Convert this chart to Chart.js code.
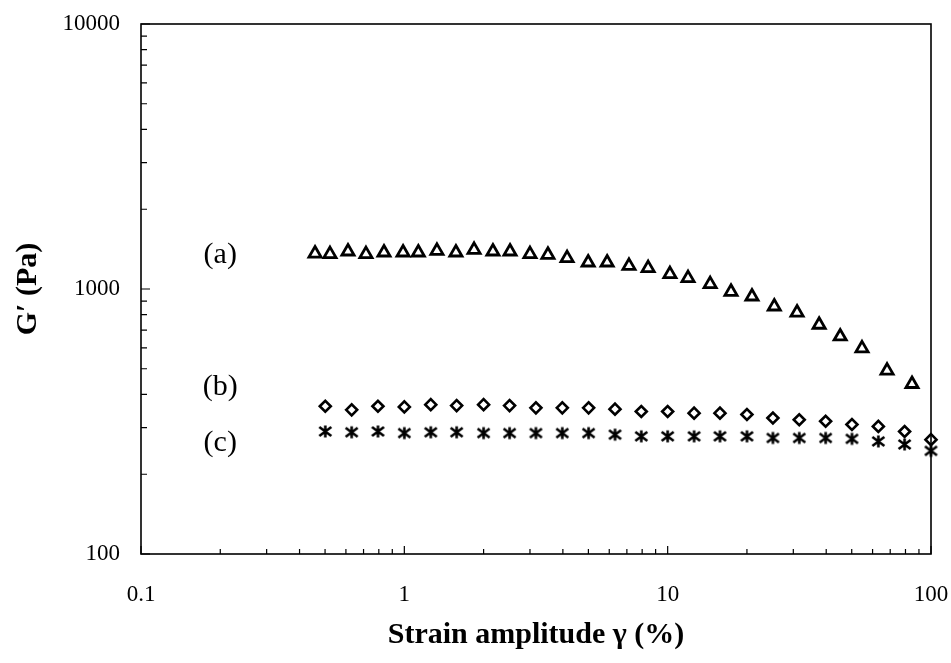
<!DOCTYPE html>
<html><head><meta charset="utf-8">
<script src="https://cdn.jsdelivr.net/npm/chart.js@4/dist/chart.umd.min.js"></script>
<style>html,body{margin:0;padding:0;background:#fff;}</style>
</head><body>
<canvas id="c" width="951" height="663" style="display:block;width:951px;height:663px"></canvas>
<script>
// ---- data ----
const strainA = [0.458, 0.522, 0.611, 0.715, 0.837, 0.989, 1.13, 1.33, 1.57, 1.84, 2.17, 2.52, 3.00, 3.51, 4.15, 4.99, 5.89, 7.13, 8.43, 10.2, 11.95, 14.5, 17.4, 20.9, 25.4, 31.0, 37.6, 45.2, 54.7, 68.1, 84.7];
const gA = [1361, 1354, 1385, 1354, 1373, 1373, 1373, 1393, 1373, 1405, 1385, 1385, 1354, 1346, 1308, 1259, 1259, 1223, 1199, 1138, 1099, 1043, 976, 937, 859, 815, 733, 662, 597, 492, 438];
const strainBC = [0.501, 0.631, 0.794, 1.0, 1.26, 1.58, 2.0, 2.51, 3.16, 3.98, 5.01, 6.31, 7.94, 10, 12.6, 15.8, 20.0, 25.1, 31.6, 39.8, 50.1, 63.1, 79.4, 100];
const gB = [361, 350, 361, 359, 366, 363, 366, 363, 356, 356, 356, 352, 345, 345, 340, 340, 336, 326, 321, 317, 308, 303, 290, 270];
const gC = [290, 288, 290, 286, 288, 288, 286, 286, 286, 286, 286, 282, 278, 278, 278, 278, 278, 274, 274, 274, 272, 266, 259, 245];
const seriesLabels = ['(a)', '(b)', '(c)'];
const seriesLabelX = [0.2, 0.2, 0.2];
const seriesLabelY = [1346, 428, 263];
const xTickValues = [0.1, 1, 10, 100];
const xTickLabels = ['0.1', '1', '10', '100'];
const yTickValues = [100, 1000, 10000];
const yTickLabels = ['100', '1000', '10000'];
const xMinorTicks = [0.2, 0.3, 0.4, 0.5, 0.6, 0.7, 0.8, 0.9, 2, 3, 4, 5, 6, 7, 8, 9, 20, 30, 40, 50, 60, 70, 80, 90];
const yMinorTicks = [200, 300, 400, 500, 600, 700, 800, 900, 2000, 3000, 4000, 5000, 6000, 7000, 8000, 9000];
const xTitle = 'Strain amplitude \u03b3 (%)';
const yTitle = 'G\u2032 (Pa)';

function makeStar() {
  const c = document.createElement('canvas');
  c.width = 15; c.height = 15;
  const g = c.getContext('2d');
  g.strokeStyle = '#000'; g.lineWidth = 2.6; g.lineCap = 'butt';
  g.beginPath();
  g.moveTo(7.5, 1.5); g.lineTo(7.5, 13.5);
  g.moveTo(1.5, 3); g.lineTo(13.5, 12);
  g.moveTo(13.5, 3); g.lineTo(1.5, 12);
  g.stroke();
  return c;
}

const serif = "'Liberation Serif', 'Times New Roman', serif";

const framePlugin = {
  id: 'frame',
  afterDraw(chart) {
    const {ctx, chartArea: a, scales: {x, y}} = chart;
    ctx.save();
    ctx.strokeStyle = '#000';
    ctx.lineWidth = 1.6;
    ctx.strokeRect(a.left, a.top, a.right - a.left, a.bottom - a.top);
    ctx.lineWidth = 1.2;
    ctx.beginPath();
    xMinorTicks.forEach(v => { const px = x.getPixelForValue(v); ctx.moveTo(px, a.bottom); ctx.lineTo(px, a.bottom - 5); });
    xTickValues.forEach(v => { const px = x.getPixelForValue(v); ctx.moveTo(px, a.bottom); ctx.lineTo(px, a.bottom - 8); });
    yMinorTicks.forEach(v => { const py = y.getPixelForValue(v); ctx.moveTo(a.left, py); ctx.lineTo(a.left + 6, py); });
    yTickValues.forEach(v => { const py = y.getPixelForValue(v); ctx.moveTo(a.left, py); ctx.lineTo(a.left + 9, py); });
    ctx.stroke();
    ctx.fillStyle = '#000';
    ctx.font = '30px ' + serif;
    ctx.textAlign = 'center';
    ctx.textBaseline = 'middle';
    seriesLabels.forEach((t, i) => {
      ctx.fillText(t, x.getPixelForValue(seriesLabelX[i]), y.getPixelForValue(seriesLabelY[i]));
    });
    ctx.restore();
  }
};

const tickFont = {family: serif, size: 23};
const titleFont = {family: serif, size: 30, weight: 'bold'};

function zeroPad(s) { s.paddingLeft = 0; s.paddingRight = 0; s.paddingTop = 0; s.paddingBottom = 0; }

new Chart(document.getElementById('c'), {
  type: 'scatter',
  data: {
    datasets: [
      {label: '(a)', data: strainA.map((v, i) => ({x: v, y: gA[i]})), pointStyle: 'triangle', pointRadius: 7, borderWidth: 2.8, borderColor: '#000', backgroundColor: 'rgba(0,0,0,0)'},
      {label: '(b)', data: strainBC.map((v, i) => ({x: v, y: gB[i]})), pointStyle: 'rectRot', pointRadius: 5.5, borderWidth: 2.6, borderColor: '#000', backgroundColor: 'rgba(0,0,0,0)'},
      {label: '(c)', data: strainBC.map((v, i) => ({x: v, y: gC[i]})), pointStyle: makeStar(), pointRadius: 7, borderWidth: 0, borderColor: '#000', backgroundColor: '#000'}
    ]
  },
  options: {
    responsive: false,
    devicePixelRatio: 1,
    animation: false,
    clip: false,
    layout: {padding: {top: 24, right: 20, left: 0, bottom: 0}},
    plugins: {legend: {display: false}, tooltip: {enabled: false}},
    scales: {
      x: {
        type: 'logarithmic', min: 0.1, max: 100,
        afterBuildTicks: s => { s.ticks = xTickValues.map(v => ({value: v})); },
        afterFit: s => { s.height = 109; zeroPad(s); },
        grid: {display: false, drawTicks: false},
        border: {display: false},
        ticks: {font: tickFont, color: '#000', padding: 27, maxRotation: 0, autoSkip: false,
          callback: v => { const i = xTickValues.indexOf(v); return i >= 0 ? xTickLabels[i] : ''; }},
        title: {display: true, text: xTitle, font: titleFont, color: '#000', padding: {top: 0, bottom: 10}}
      },
      y: {
        type: 'logarithmic', min: 100, max: 10000,
        afterBuildTicks: s => { s.ticks = yTickValues.map(v => ({value: v})); },
        afterFit: s => { s.width = 141; zeroPad(s); },
        grid: {display: false, drawTicks: false},
        border: {display: false},
        ticks: {font: tickFont, color: '#000', padding: 21, autoSkip: false,
          callback: v => { const i = yTickValues.indexOf(v); return i >= 0 ? yTickLabels[i] : ''; }},
        title: {display: true, text: yTitle, font: titleFont, color: '#000', padding: {top: 10, bottom: 0}}
      }
    }
  },
  plugins: [framePlugin]
});
</script>
</body></html>
